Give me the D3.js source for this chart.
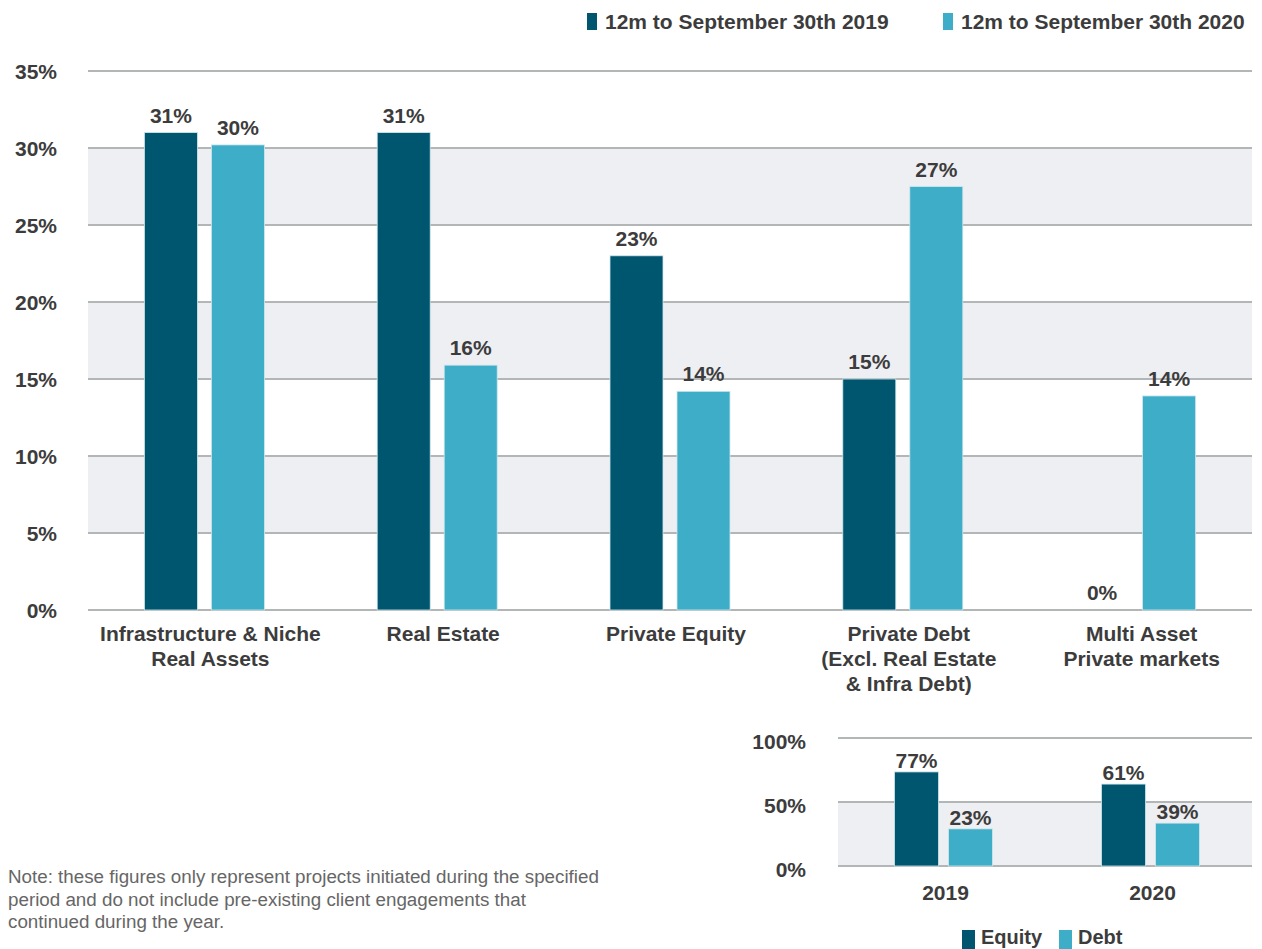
<!DOCTYPE html>
<meta charset="utf-8">
<style>
  body { margin: 0; background: #fff; font-family: "Liberation Sans", Arial, sans-serif; }
  svg text { fill: #3c3c3c; font-weight: bold; }
  .grid line { stroke: #b3b6b6; stroke-width: 2.5px; shape-rendering: crispEdges; }
  .band { fill: #eeeff3; }
  .note { fill: #666; font-weight: normal; font-size: 18.8px; }
</style>
<body>
<svg id="chart" width="1262" height="949"></svg>
<script src="https://cdn.jsdelivr.net/npm/d3@7"></script>
<script>
// main chart data
const categories = [
  ["Infrastructure & Niche", "Real Assets"],
  ["Real Estate"],
  ["Private Equity"],
  ["Private Debt", "(Excl. Real Estate", "& Infra Debt)"],
  ["Multi Asset", "Private markets"]
];
const seriesNames = ["12m to September 30th 2019", "12m to September 30th 2020"];
const values2019 = [31, 31, 23, 15, 0];
const values2020 = [30.2, 15.9, 14.2, 27.5, 13.9];
const labels2019 = ["31%", "31%", "23%", "15%", "0%"];
const labels2020 = ["30%", "16%", "14%", "27%", "14%"];
const yTicks = [0, 5, 10, 15, 20, 25, 30, 35];

// small chart data
const years = ["2019", "2020"];
const splitNames = ["Equity", "Debt"];
const equity = [73.5, 64];
const debt = [29, 33.5];
const equityLabels = ["77%", "61%"];
const debtLabels = ["23%", "39%"];
const smallTicks = [0, 50, 100];

const dark = "#00566e", light = "#3eaec8";
const svg = d3.select("#chart");

// ---------- main chart ----------
const x = d3.scaleBand().domain(d3.range(categories.length)).range([88, 1252]);
const y = d3.scaleLinear().domain([0, 35]).range([610, 71]);
const barW = 53, gap = 14;

const main = svg.append("g");
// shaded bands
[[25, 30], [15, 20], [5, 10]].forEach(function(b) {
  main.append("rect").attr("class", "band")
    .attr("x", 88).attr("width", 1252 - 88)
    .attr("y", y(b[1])).attr("height", y(b[0]) - y(b[1]));
});
const grid = main.append("g").attr("class", "grid");
grid.selectAll("line").data(yTicks).enter().append("line")
  .attr("x1", 88).attr("x2", 1252)
  .attr("y1", d => y(d)).attr("y2", d => y(d));
main.selectAll("text.ytick").data(yTicks).enter().append("text")
  .attr("class", "ytick")
  .attr("x", 57).attr("y", d => y(d) + 8)
  .attr("text-anchor", "end").style("font-size", "21px")
  .text(d => d + "%");

function groupStart(i) { return x(i) + x.bandwidth() / 2 - barW - gap / 2; }

[values2019, values2020].forEach(function(vals, s) {
  const labs = s === 0 ? labels2019 : labels2020;
  main.selectAll("rect.s" + s).data(vals).enter().append("rect")
    .attr("class", "s" + s)
    .attr("x", (d, i) => groupStart(i) + s * (barW + gap))
    .attr("width", barW)
    .attr("y", d => y(d)).attr("height", d => y(0) - y(d))
    .attr("fill", s === 0 ? dark : light)
    .attr("stroke", "#cfe6ec").attr("stroke-width", 0.8);
  main.selectAll("text.v" + s).data(vals).enter().append("text")
    .attr("class", "v" + s)
    .attr("x", (d, i) => groupStart(i) + s * (barW + gap) + barW / 2)
    .attr("y", d => y(d) - 10)
    .attr("text-anchor", "middle").style("font-size", "21px")
    .text((d, i) => labs[i]);
});

// category labels
categories.forEach(function(lines, i) {
  const cx = x(i) + x.bandwidth() / 2 + 6;
  const t = main.append("text")
    .attr("text-anchor", "middle").style("font-size", "21px")
    .attr("x", cx).attr("y", 641);
  lines.forEach(function(l, j) {
    t.append("tspan").attr("x", cx).attr("dy", j === 0 ? 0 : 25).text(l);
  });
});

// top legend
const legX = [587, 943];
seriesNames.forEach(function(n, i) {
  svg.append("rect").attr("x", legX[i]).attr("y", 13).attr("width", 10).attr("height", 17)
    .attr("fill", i === 0 ? dark : light);
  svg.append("text").attr("x", legX[i] + 18).attr("y", 29)
    .style("font-size", "21px").text(n);
});

// ---------- small chart ----------
const sx = d3.scaleBand().domain(years).range([838, 1252]);
const sy = d3.scaleLinear().domain([0, 100]).range([866, 738]);
const sW = 44, sGap = 10;
svg.append("rect").attr("class", "band")
  .attr("x", 838).attr("width", 1252 - 838)
  .attr("y", sy(50)).attr("height", sy(0) - sy(50));
svg.append("g").attr("class", "grid").selectAll("line").data(smallTicks).enter().append("line")
  .attr("x1", 838).attr("x2", 1252)
  .attr("y1", d => sy(d)).attr("y2", d => sy(d));
svg.selectAll("text.stick").data(smallTicks).enter().append("text")
  .attr("class", "stick")
  .attr("x", 806).attr("y", d => sy(d) + 11)
  .attr("text-anchor", "end").style("font-size", "21px")
  .text(d => d + "%");

function sStart(yr) { return sx(yr) + sx.bandwidth() / 2 - sW - sGap / 2 + 2; }
[equity, debt].forEach(function(vals, s) {
  const labs = s === 0 ? equityLabels : debtLabels;
  svg.selectAll("rect.ss" + s).data(vals).enter().append("rect")
    .attr("class", "ss" + s)
    .attr("x", (d, i) => sStart(years[i]) + s * (sW + sGap))
    .attr("width", sW)
    .attr("y", d => sy(d)).attr("height", d => sy(0) - sy(d))
    .attr("fill", s === 0 ? dark : light)
    .attr("stroke", "#cfe6ec").attr("stroke-width", 0.8);
  svg.selectAll("text.sv" + s).data(vals).enter().append("text")
    .attr("class", "sv" + s)
    .attr("x", (d, i) => sStart(years[i]) + s * (sW + sGap) + sW / 2)
    .attr("y", d => sy(d) - 4)
    .attr("text-anchor", "middle").style("font-size", "21px")
    .text((d, i) => labs[i]);
});
svg.selectAll("text.year").data(years).enter().append("text")
  .attr("class", "year")
  .attr("x", d => sx(d) + sx.bandwidth() / 2 + 4).attr("y", 900)
  .attr("text-anchor", "middle").style("font-size", "21px")
  .text(d => d);

// bottom legend
const sLegX = [962, 1059];
splitNames.forEach(function(n, i) {
  svg.append("rect").attr("x", sLegX[i]).attr("y", 930).attr("width", 13).attr("height", 19)
    .attr("fill", i === 0 ? dark : light);
  svg.append("text").attr("x", sLegX[i] + 19).attr("y", 944)
    .style("font-size", "20px").text(n);
});

// note
const note = svg.append("text").attr("class", "note").attr("x", 8).attr("y", 883);
["Note: these figures only represent projects initiated during the specified",
 "period and do not include pre-existing client engagements that",
 "continued during the year."].forEach(function(l, j) {
  note.append("tspan").attr("x", 8).attr("dy", j === 0 ? 0 : 22.5).text(l);
});
</script>
</body>
